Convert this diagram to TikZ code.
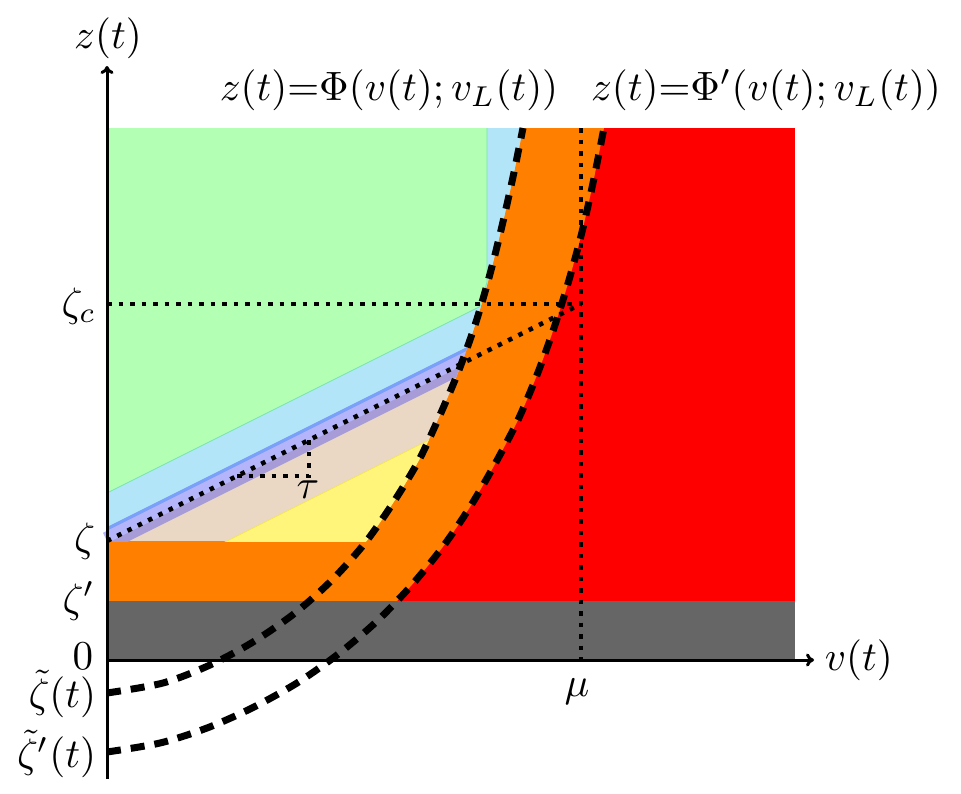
\documentclass[tikz,border=0pt]{standalone}
\usetikzlibrary{arrows.meta}
\definecolor{cgreen}{RGB}{179,255,179}
\definecolor{cgreenedge}{RGB}{120,225,190}
\definecolor{clblue}{RGB}{178,229,247}
\definecolor{cmblue}{RGB}{122,160,250}
\definecolor{clav}{RGB}{180,180,250}
\definecolor{cpurp}{RGB}{168,156,216}
\definecolor{ctan}{RGB}{234,216,197}
\definecolor{cyel}{RGB}{255,245,122}
\definecolor{cyeledge}{RGB}{245,230,80}
\definecolor{corange}{RGB}{255,128,0}
\definecolor{cred}{RGB}{255,0,0}
\definecolor{cgray}{RGB}{102,102,102}
\begin{document}
\begin{tikzpicture}[x=1pt,y=-1pt,
  lbl/.style={inner sep=0pt, scale=4.1, transform shape},
  dotline/.style={line width=4.5pt, dash pattern=on 4.5pt off 7pt},
  dashcurve/.style={line width=7pt, dash pattern=on 14pt off 10pt},
  axisline/.style={line width=3pt, -{To[length=8pt,width=13pt]}}]
\useasboundingbox (0,0) rectangle (961,793);

% red background region
\fill[cred] (107,128) rectangle (795,601);
% orange: left of curve 2
\begin{scope}
\clip (107,128) rectangle (795,601);
\fill[corange] (0,800) -- (107,800) -- plot[smooth] coordinates {(107,752) (160,743) (207,728) (252,708) (297,683) (337,655) (375,623) (410,587) (442,548) (470,507) (495,464) (518,420) (537,375) (554,328) (569,280) (582,232) (593,183) (603,133) (604,128)} -- (604,0) -- (0,0) -- cycle;
\end{scope}
% region left of curve 1, above zeta
\begin{scope}
\clip (100,128) rectangle (795,541);
\clip (0,800) -- (107,800) -- plot[smooth] coordinates {(107,693) (163,683) (210,665) (253,642) (295,613) (332,580) (365,543) (393,503) (419,460) (440,415) (459,370) (476,322) (490,274) (502,226) (513,177) (523,128)} -- (523,0) -- (100,0) -- (100,800) -- cycle;
\fill[ctan] (107,128) rectangle (795,541);
\fill[clblue] (107,0) -- (700,0) -- (700,231.5) -- (107,528) -- cycle;
\fill[cmblue] (107,527) -- (700,230.5) -- (700,236.5) -- (107,533) -- cycle;
\fill[cpurp] (107,542) -- (700,245.5) -- (700,255.5) -- (107,552) -- cycle;
\draw[clav, line width=11pt] (105.5,537.75) -- (700,240.5);
\fill[cyel] (107,601) -- (700,304.5) -- (700,541) -- cycle;
\draw[cyeledge, line width=0.8pt] (107,601) -- (700,304.5);
\fill[cgreen] (107,128) -- (487,128) -- (487,282) -- (480,306.5) -- (107,493) -- cycle;
\draw[cgreenedge, line width=0.8pt] (487,128) -- (487,282) -- (480,306.5) -- (107,493);
\end{scope}
% gray band
\fill[cgray] (107,601) rectangle (795,660);

% dotted guide lines
\coordinate (zl) at (107,541);
\coordinate (zc) at (107,304);
\coordinate (mc) at (581,304);
\coordinate (mt) at (581,128);
\coordinate (mb) at (581,660);
\coordinate (ta) at (237,476);
\coordinate (tb) at (309,476);
\coordinate (tc) at (309,440);
\draw[dotline] (zc) -- (mc);
\draw[dotline] (mt) -- (mb);
\draw[dotline] (zl) -- (mc);
\draw[dotline] (ta) -- (tb) -- (tc);

% axes
\coordinate (o) at (107,660);
\coordinate (xe) at (814,660);
\coordinate (yb) at (107,779);
\coordinate (ye) at (107,66);
\draw[axisline] (o) -- (xe);
\draw[line width=3pt] (yb) -- (o);
\draw[axisline] (o) -- (ye);

% dashed curves
\draw[dashcurve] plot[smooth] coordinates {(107,693) (163,683) (210,665) (253,642) (295,613) (332,580) (365,543) (393,503) (419,460) (440,415) (459,370) (476,322) (490,274) (502,226) (513,177) (523,128)};
\draw[dashcurve] plot[smooth] coordinates {(107,752) (160,743) (207,728) (252,708) (297,683) (337,655) (375,623) (410,587) (442,548) (470,507) (495,464) (518,420) (537,375) (554,328) (569,280) (582,232) (593,183) (603,133) (604,128)};

% labels
\node[lbl] (lz) at (108,38) {$z(t)$};
\node[lbl, anchor=west] (lv) at (824,660) {$v(t)$};
\node[lbl] (lphi) at (389,90) {$z(t){=}\Phi(v(t);v_L(t))$};
\node[lbl] (lphip) at (766,90) {$z(t){=}\Phi'(v(t);v_L(t))$};
\node[lbl, anchor=east] (lzc) at (97,306) {$\zeta_c$};
\node[lbl, anchor=east] (lz1) at (96,541) {$\zeta$};
\node[lbl, anchor=east] (lz2) at (96,601) {$\zeta'$};
\node[lbl, anchor=east] (l0) at (94,656) {$0$};
\node[lbl, anchor=east] (lzt) at (97,694) {$\tilde\zeta(t)$};
\node[lbl, anchor=east] (lztp) at (97,754) {$\tilde\zeta'(t)$};
\node[lbl] (lmu) at (577,692) {$\mu$};
\node[lbl] (ltau) at (308,490) {$\tau$};
\end{tikzpicture}
\end{document}
